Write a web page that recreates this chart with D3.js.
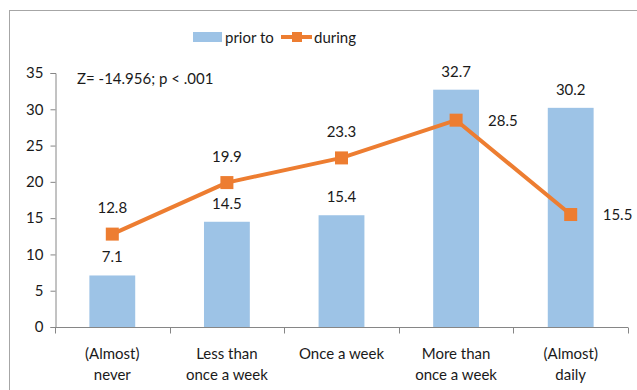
<!DOCTYPE html>
<html>
<head>
<meta charset="utf-8">
<script src="https://cdn.jsdelivr.net/npm/d3@7"></script>
<style>
  html, body { margin: 0; padding: 0; background: #fff; }
  svg { display: block; font-family: Lato, "Open Sans", sans-serif; }
</style>
</head>
<body>
<svg id="chart" width="637" height="390"></svg>
<script>
// Frequency categories (two-line labels split on "\n")
const categories = ["(Almost)\nnever", "Less than\nonce a week", "Once a week", "More than\nonce a week", "(Almost)\ndaily"];
// Percentages before and during
const priorTo = [7.1, 14.5, 15.4, 32.7, 30.2];
const during = [12.8, 19.9, 23.3, 28.5, 15.5];
// Where each "during" value label sits relative to its marker
const duringLabelSide = ["above", "above", "above", "right", "right"];
const yTicks = [0, 5, 10, 15, 20, 25, 30, 35];
const statText = "Z= -14.956; p < .001";

const barColor = "#9DC3E6";
const lineColor = "#ED7D31";
const axisColor = "#868686";
const textColor = "#1a1a1a";

const svg = d3.select("#chart");

// Outer chart frame
svg.append("rect")
  .attr("x", 9.5).attr("y", 10.5)
  .attr("width", 640).attr("height", 400)
  .attr("fill", "none").attr("stroke", "#a6a6a6").attr("stroke-width", 1);

const plot = { left: 55, right: 628, top: 73, bottom: 327 };

const x = d3.scaleBand().domain(categories).range([plot.left, plot.right]).paddingInner(0).paddingOuter(0);
const y = d3.scaleLinear().domain([0, 35]).range([plot.bottom, plot.top]);
const barW = x.bandwidth() * 0.4;
const cx = c => x(c) + x.bandwidth() / 2;

// Y axis
const yAxis = svg.append("g")
  .attr("transform", `translate(${plot.left + 0.5},0)`)
  .call(d3.axisLeft(y).tickValues(yTicks).tickSize(5).tickPadding(7).tickFormat(d3.format("d")));
yAxis.select(".domain").attr("stroke", axisColor);
yAxis.selectAll(".tick line").attr("stroke", axisColor);
yAxis.selectAll(".tick text").attr("fill", textColor).style("font-size", "15px").style("font-family", "Lato, sans-serif");

// Bars
svg.append("g").selectAll("rect")
  .data(categories)
  .join("rect")
  .attr("x", c => cx(c) - barW / 2)
  .attr("width", barW)
  .attr("y", (c, i) => y(priorTo[i]))
  .attr("height", (c, i) => y(0) - y(priorTo[i]))
  .attr("fill", barColor);

// X axis with ticks at band boundaries
const xAxisG = svg.append("g").attr("transform", `translate(0,${plot.bottom + 0.5})`);
xAxisG.append("line")
  .attr("x1", plot.left).attr("x2", plot.right)
  .attr("stroke", axisColor);
const boundaries = categories.map(c => x(c)).concat([plot.right]);
xAxisG.selectAll("line.tk")
  .data(boundaries)
  .join("line")
  .attr("class", "tk")
  .attr("x1", d => Math.round(d) + 0.5).attr("x2", d => Math.round(d) + 0.5)
  .attr("y1", 0).attr("y2", 6)
  .attr("stroke", axisColor);
const xl = xAxisG.selectAll("text")
  .data(categories)
  .join("text")
  .attr("x", cx)
  .attr("y", 31)
  .attr("text-anchor", "middle")
  .attr("fill", textColor)
  .style("font-size", "15px");
xl.each(function(c) {
  const lines = c.split("\n");
  d3.select(this).selectAll("tspan")
    .data(lines)
    .join("tspan")
    .attr("x", cx(c))
    .attr("dy", (d, i) => i === 0 ? 0 : 21)
    .text(d => d);
});

// Bar value labels
svg.append("g").selectAll("text")
  .data(categories)
  .join("text")
  .attr("x", cx)
  .attr("y", (c, i) => y(priorTo[i]) - 13)
  .attr("text-anchor", "middle")
  .attr("fill", textColor)
  .style("font-size", "15px")
  .text((c, i) => priorTo[i].toFixed(1));

// "During" line
const line = d3.line().x(c => cx(c)).y((c, i) => y(during[i]));
svg.append("path")
  .datum(categories)
  .attr("d", line)
  .attr("fill", "none")
  .attr("stroke", lineColor)
  .attr("stroke-width", 4)
  .attr("stroke-linejoin", "round");

const mk = 13;
svg.append("g").selectAll("rect")
  .data(categories)
  .join("rect")
  .attr("x", c => cx(c) - mk / 2)
  .attr("y", (c, i) => y(during[i]) - mk / 2)
  .attr("width", mk).attr("height", mk)
  .attr("fill", lineColor);

// "During" value labels
svg.append("g").selectAll("text")
  .data(categories)
  .join("text")
  .attr("x", (c, i) => duringLabelSide[i] === "right" ? cx(c) + 32 : cx(c))
  .attr("y", (c, i) => duringLabelSide[i] === "right" ? y(during[i]) + 5.5 : y(during[i]) - 21)
  .attr("text-anchor", (c, i) => duringLabelSide[i] === "right" ? "start" : "middle")
  .attr("fill", textColor)
  .style("font-size", "15px")
  .text((c, i) => during[i].toFixed(1));

// Statistic annotation
svg.append("text")
  .attr("x", 77).attr("y", 84)
  .attr("fill", textColor)
  .style("font-size", "15px")
  .text(statText);

// Legend
const lg = svg.append("g");
lg.append("rect").attr("x", 193).attr("y", 32).attr("width", 29).attr("height", 10).attr("fill", barColor);
lg.append("text").attr("x", 225).attr("y", 42.5).attr("fill", textColor).style("font-size", "15px").text("prior to");
lg.append("line").attr("x1", 281).attr("x2", 312).attr("y1", 37).attr("y2", 37).attr("stroke", lineColor).attr("stroke-width", 4);
lg.append("rect").attr("x", 292).attr("y", 32).attr("width", 10).attr("height", 10).attr("fill", lineColor);
lg.append("text").attr("x", 314).attr("y", 42.5).attr("fill", textColor).style("font-size", "15px").text("during");
</script>
</body>
</html>
